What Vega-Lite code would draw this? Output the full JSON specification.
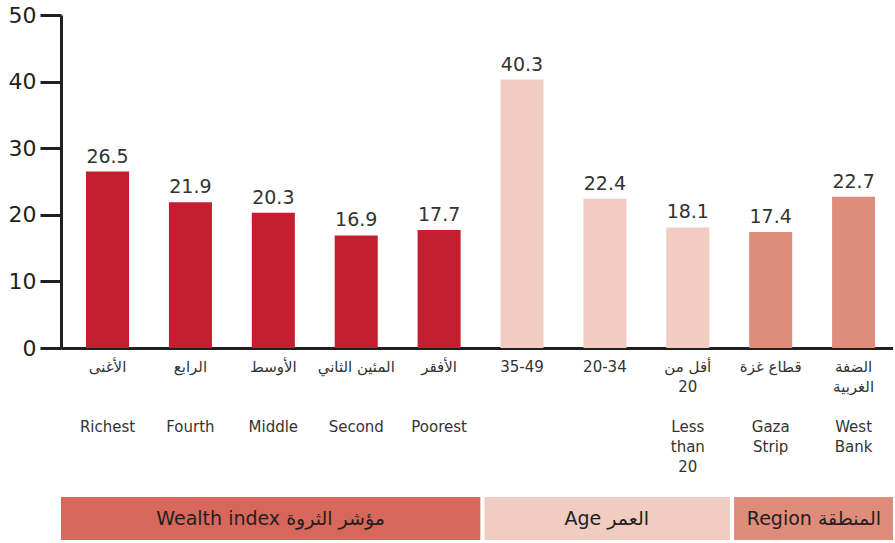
{
  "$schema": "https://vega.github.io/schema/vega-lite/v6.json",
  "background": "white",
  "padding": {"left": 8, "top": 4, "right": 0, "bottom": 0},
  "config": {
    "view": {"stroke": null},
    "font": "DejaVu Sans",
    "concat": {"spacing": 23}
  },
  "resolve": {"scale": {"color": "independent", "x": "independent"}},
  "datasets": {
    "bars": [
      {"label": "الأغنى#Richest", "group": "Wealth", "value": 26.5},
      {"label": "الرابع#Fourth", "group": "Wealth", "value": 21.9},
      {"label": "الأوسط#Middle", "group": "Wealth", "value": 20.3},
      {"label": "المئين الثاني#Second", "group": "Wealth", "value": 16.9},
      {"label": "الأفقر#Poorest", "group": "Wealth", "value": 17.7},
      {"label": "35-49", "group": "Age", "value": 40.3},
      {"label": "20-34", "group": "Age", "value": 22.4},
      {"label": "أقل من|20#Less|than|20", "group": "Age", "value": 18.1},
      {"label": "قطاع غزة#Gaza|Strip", "group": "Region", "value": 17.4},
      {"label": "الضفة|الغربية#West|Bank", "group": "Region", "value": 22.7}
    ],
    "groups": [
      {"name": "Wealth index مؤشر الثروة", "group": "Wealth", "start": 0, "end": 5.04, "mid": 2.52},
      {"name": "Age العمر", "group": "Age", "start": 5.09, "end": 8.04, "mid": 6.56},
      {"name": "Region المنطقة", "group": "Region", "start": 8.09, "end": 10, "mid": 9.05}
    ]
  },
  "vconcat": [
    {
      "width": 832,
      "height": 333,
      "data": {"name": "bars"},
      "resolve": {"axis": {"x": "independent"}},
      "encoding": {
        "y": {
          "field": "value",
          "type": "quantitative",
          "scale": {"domain": [0, 50]},
          "axis": {
            "title": null,
            "values": [0, 10, 20, 30, 40, 50],
            "grid": false,
            "labelFontSize": 22,
            "labelColor": "#231f20",
            "labelPadding": 4,
            "tickSize": 21,
            "tickWidth": 3,
            "tickColor": "#231f20",
            "domainColor": "#231f20",
            "domainWidth": 3
          }
        }
      },
      "layer": [
        {
          "mark": {"type": "bar"},
          "encoding": {
            "x": {
              "field": "label",
              "type": "nominal",
              "sort": null,
              "scale": {"paddingInner": 0.481, "paddingOuter": 0.259, "align": 0.583},
              "axis": {
                "orient": "bottom",
                "title": null,
                "labelAngle": 0,
                "labelExpr": "split(split(datum.value, '#')[0], '|')",
                "labelFontSize": 15,
                "labelColor": "#333333",
                "labelLineHeight": 20,
                "labelPadding": 11,
                "labelBaseline": "top",
                "ticks": false,
                "domainColor": "#231f20",
                "domainWidth": 3
              }
            },
            "color": {
              "field": "group",
              "type": "nominal",
              "scale": {"domain": ["Wealth", "Age", "Region"], "range": ["#c41e30", "#f1cdc1", "#df8c7c"]},
              "legend": null
            }
          }
        },
        {
          "mark": {"type": "text", "baseline": "bottom", "dy": -5, "fontSize": 19, "color": "#333333"},
          "encoding": {
            "x": {
              "field": "label",
              "type": "nominal",
              "sort": null,
              "axis": {
                "orient": "bottom",
                "title": null,
                "values": ["الأغنى#Richest", "الرابع#Fourth", "الأوسط#Middle", "المئين الثاني#Second", "الأفقر#Poorest", "أقل من|20#Less|than|20", "قطاع غزة#Gaza|Strip", "الضفة|الغربية#West|Bank"],
                "labelAngle": 0,
                "labelExpr": "split(split(datum.value, '#')[1], '|')",
                "labelFontSize": 15,
                "labelColor": "#333333",
                "labelLineHeight": 20,
                "labelPadding": 71,
                "labelBaseline": "top",
                "ticks": false,
                "domain": false
              }
            },
            "text": {"field": "value", "type": "quantitative", "format": ".1f"}
          }
        }
      ]
    },
    {
      "width": 832,
      "height": 43,
      "data": {"name": "groups"},
      "layer": [
        {
          "mark": {"type": "rect"},
          "encoding": {
            "x": {"field": "start", "type": "quantitative", "scale": {"domain": [0, 10], "nice": false}, "axis": null},
            "x2": {"field": "end"},
            "color": {
              "field": "group",
              "type": "nominal",
              "scale": {"domain": ["Wealth", "Age", "Region"], "range": ["#d7675a", "#f0cdc0", "#df8c7c"]},
              "legend": null
            }
          }
        },
        {
          "mark": {"type": "text", "fontSize": 19, "color": "#231f20", "baseline": "middle"},
          "encoding": {
            "x": {"field": "mid", "type": "quantitative", "scale": {"domain": [0, 10], "nice": false}, "axis": null},
            "text": {"field": "name"}
          }
        }
      ]
    }
  ]
}
